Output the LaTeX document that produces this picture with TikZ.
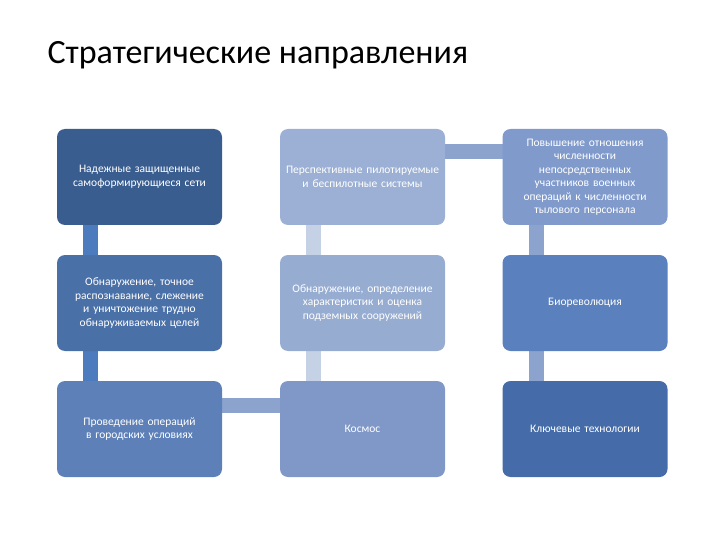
\documentclass[tikz,border=0pt]{standalone}
\usepackage{fontspec}
\setmainfont{Carlito}
\definecolor{cA}{HTML}{3A5D8F}
\definecolor{cB}{HTML}{4A70A8}
\definecolor{cC}{HTML}{5D80B8}
\definecolor{cD}{HTML}{9BB0D4}
\definecolor{cE}{HTML}{97ACD1}
\definecolor{cF}{HTML}{8098C8}
\definecolor{cG}{HTML}{7F9ACB}
\definecolor{cH}{HTML}{5A80BE}
\definecolor{cI}{HTML}{456CA8}
\definecolor{kA}{HTML}{4C7BBE}
\definecolor{kB}{HTML}{C5D2E6}
\definecolor{kC}{HTML}{8CA3CE}
\tikzset{x=1pt,y=-1pt,
 box/.style={rounded corners=8pt,text=white,minimum width=165pt,minimum height=96pt,text width=155pt,align=center,font=\fontsize{11.5}{13.5}\selectfont,inner sep=0pt},
 bar/.style={line width=15pt}}
\begin{document}
\begin{tikzpicture}
\useasboundingbox (0,0) rectangle (720,540);
\node[anchor=west,font=\fontsize{34}{38}\selectfont] (title) at (44,55) {Стратегические направления};
\draw[kA,bar] (90,225) -- (90,255);
\draw[kA,bar] (90,351) -- (90,381);
\draw[kB,bar] (313,225) -- (313,255);
\draw[kB,bar] (313,351) -- (313,381);
\draw[kC,bar] (536,225) -- (536,255);
\draw[kC,bar] (536,351) -- (536,381);
\draw[kC,bar] (445,152) -- (503,152);
\draw[kC,bar] (222,405) -- (280,405);
\node[box,fill=cA] (a1) at (139.5,177) {Надежные защищенные самоформирующиеся сети};
\node[box,fill=cB] (a2) at (139.5,303) {Обнаружение, точное распознавание, слежение и уничтожение трудно обнаруживаемых целей};
\node[box,fill=cC] (a3) at (139.5,429) {Проведение операций в городских условиях\\[14pt]};
\node[box,fill=cD] (b1) at (362.5,177) {Перспективные пилотируемые и беспилотные системы};
\node[box,fill=cE] (b2) at (362.5,303) {Обнаружение, определение характеристик и оценка подземных сооружений};
\node[box,fill=cF] (b3) at (362.5,429) {Космос};
\node[box,fill=cG] (c1) at (585,177) {Повышение отношения численности непосредственных участников военных операций к численности тылового персонала};
\node[box,fill=cH] (c2) at (585,303) {Биореволюция};
\node[box,fill=cI] (c3) at (585,429) {Ключевые технологии};
\end{tikzpicture}
\end{document}
